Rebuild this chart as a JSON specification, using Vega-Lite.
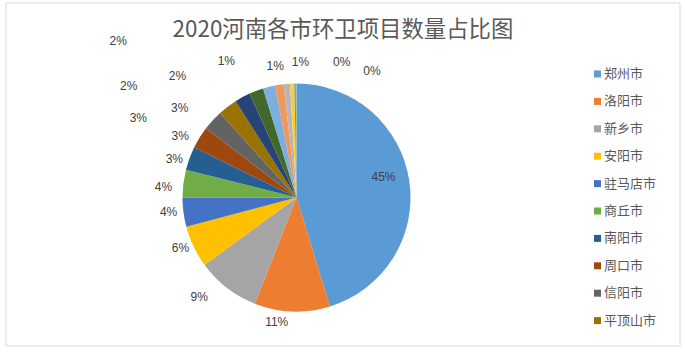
{
  "$schema": "https://vega.github.io/schema/vega-lite/v6.json",
  "width": 674,
  "height": 343,
  "autosize": {"type": "none"},
  "padding": {"left": 6, "top": 3, "right": 5, "bottom": 7},
  "background": "white",
  "config": {"view": {"stroke": null}, "font": "Noto Sans CJK SC"},
  "title": {"text": "2020河南各市环卫项目数量占比图", "fontSize": 22.4, "font": "Noto Sans CJK SC", "fontWeight": "normal", "color": "#595959", "anchor": "middle", "offset": -39},
  "layer": [
    {"data": {"values": [{"frame": 1}]},
     "mark": {"type": "rect", "x": 0, "x2": "width", "y": 0, "y2": "height", "fill": "transparent", "stroke": "#D9D9D9", "strokeWidth": 1},
     "encoding": {}},
    {"data": {"values": [
      {"rank": 1, "city": "郑州市", "share": 0.4526},
      {"rank": 2, "city": "洛阳市", "share": 0.1069},
      {"rank": 3, "city": "新乡市", "share": 0.0897},
      {"rank": 4, "city": "安阳市", "share": 0.0595},
      {"rank": 5, "city": "驻马店市", "share": 0.0413},
      {"rank": 6, "city": "商丘市", "share": 0.0393},
      {"rank": 7, "city": "南阳市", "share": 0.0333},
      {"rank": 8, "city": "周口市", "share": 0.0313},
      {"rank": 9, "city": "信阳市", "share": 0.0292},
      {"rank": 10, "city": "平顶山市", "share": 0.0272},
      {"rank": 11, "city": "开封市", "share": 0.0222},
      {"rank": 12, "city": "焦作市", "share": 0.0202},
      {"rank": 13, "city": "许昌市", "share": 0.0171},
      {"rank": 14, "city": "漯河市", "share": 0.0121},
      {"rank": 15, "city": "三门峡市", "share": 0.0091},
      {"rank": 16, "city": "鹤壁市", "share": 0.0060},
      {"rank": 17, "city": "濮阳市", "share": 0.0020},
      {"rank": 18, "city": "济源市", "share": 0.0010}
    ]},
    "encoding": {
      "theta": {"field": "share", "type": "quantitative", "stack": true},
      "order": {"field": "rank", "type": "quantitative"}
    },
    "layer": [
      {"mark": {"type": "arc", "x": 290.5, "y": 194.5, "outerRadius": 114},
       "encoding": {"color": {"field": "city", "type": "nominal",
         "scale": {"domain": ["郑州市","洛阳市","新乡市","安阳市","驻马店市","商丘市","南阳市","周口市","信阳市","平顶山市","开封市","焦作市","许昌市","漯河市","三门峡市","鹤壁市","濮阳市","济源市"],
                   "range": ["#5B9BD5","#ED7D31","#A5A5A5","#FFC000","#4472C4","#70AD47","#255E91","#9E480E","#636363","#997300","#264478","#43682B","#7CAFDD","#F1975A","#B7B7B7","#FFCD33","#698ED0","#8CC168"]},
         "legend": {"orient": "none", "legendX": 585, "legendY": 64.5, "title": null,
           "values": ["郑州市","洛阳市","新乡市","安阳市","驻马店市","商丘市","南阳市","周口市","信阳市","平顶山市"],
           "symbolType": "square", "symbolSize": 49, "symbolStrokeWidth": 0,
           "labelFont": "Noto Sans CJK SC", "labelFontSize": 13, "labelColor": "#595959",
           "rowPadding": 13.4, "labelOffset": 0, "padding": 0}}}},
      {"mark": {"type": "text", "x": 290.5, "y": 194.5, "radius": 90, "dx": -2, "dy": -7, "font": "Liberation Sans", "fontSize": 12, "fill": "#404040"},
       "encoding": {"text": {"field": "share", "type": "quantitative", "format": ".0%"}, "opacity": {"condition": {"test": "datum.rank == 1", "value": 1}, "value": 0}}},
      {"mark": {"type": "text", "x": 290.5, "y": 194.5, "radius": 126, "dx": -15, "dy": -1, "font": "Liberation Sans", "fontSize": 12, "fill": "#404040"},
       "encoding": {"text": {"field": "share", "type": "quantitative", "format": ".0%"}, "opacity": {"condition": {"test": "datum.rank == 2", "value": 1}, "value": 0}}},
      {"mark": {"type": "text", "x": 290.5, "y": 194.5, "radius": 140, "dx": -12, "dy": -11, "font": "Liberation Sans", "fontSize": 12, "fill": "#404040"},
       "encoding": {"text": {"field": "share", "type": "quantitative", "format": ".0%"}, "opacity": {"condition": {"test": "datum.rank == 3", "value": 1}, "value": 0}}},
      {"mark": {"type": "text", "x": 290.5, "y": 194.5, "radius": 126.5, "dx": -2, "dy": -4, "font": "Liberation Sans", "fontSize": 12, "fill": "#404040"},
       "encoding": {"text": {"field": "share", "type": "quantitative", "format": ".0%"}, "opacity": {"condition": {"test": "datum.rank == 4", "value": 1}, "value": 0}}},
      {"mark": {"type": "text", "x": 290.5, "y": 194.5, "radius": 129, "dx": 0, "dy": -2, "font": "Liberation Sans", "fontSize": 12, "fill": "#404040"},
       "encoding": {"text": {"field": "share", "type": "quantitative", "format": ".0%"}, "opacity": {"condition": {"test": "datum.rank == 5", "value": 1}, "value": 0}}},
      {"mark": {"type": "text", "x": 290.5, "y": 194.5, "radius": 133, "dx": -1, "dy": 6, "font": "Liberation Sans", "fontSize": 12, "fill": "#404040"},
       "encoding": {"text": {"field": "share", "type": "quantitative", "format": ".0%"}, "opacity": {"condition": {"test": "datum.rank == 6", "value": 1}, "value": 0}}},
      {"mark": {"type": "text", "x": 290.5, "y": 194.5, "radius": 128, "dx": -2, "dy": 6, "font": "Liberation Sans", "fontSize": 12, "fill": "#404040"},
       "encoding": {"text": {"field": "share", "type": "quantitative", "format": ".0%"}, "opacity": {"condition": {"test": "datum.rank == 7", "value": 1}, "value": 0}}},
      {"mark": {"type": "text", "x": 290.5, "y": 194.5, "radius": 132, "dx": -4, "dy": 8, "font": "Liberation Sans", "fontSize": 12, "fill": "#404040"},
       "encoding": {"text": {"field": "share", "type": "quantitative", "format": ".0%"}, "opacity": {"condition": {"test": "datum.rank == 8", "value": 1}, "value": 0}}},
      {"mark": {"type": "text", "x": 290.5, "y": 194.5, "radius": 177, "dx": -28, "dy": 40, "font": "Liberation Sans", "fontSize": 12, "fill": "#404040"},
       "encoding": {"text": {"field": "share", "type": "quantitative", "format": ".0%"}, "opacity": {"condition": {"test": "datum.rank == 9", "value": 1}, "value": 0}}},
      {"mark": {"type": "text", "x": 290.5, "y": 194.5, "radius": 147, "dx": -28, "dy": 28, "font": "Liberation Sans", "fontSize": 12, "fill": "#404040"},
       "encoding": {"text": {"field": "share", "type": "quantitative", "format": ".0%"}, "opacity": {"condition": {"test": "datum.rank == 10", "value": 1}, "value": 0}}},
      {"mark": {"type": "text", "x": 290.5, "y": 194.5, "radius": 200, "dx": -73, "dy": 65, "font": "Liberation Sans", "fontSize": 12, "fill": "#404040"},
       "encoding": {"text": {"field": "share", "type": "quantitative", "format": ".0%"}, "opacity": {"condition": {"test": "datum.rank == 11", "value": 1}, "value": 0}}},
      {"mark": {"type": "text", "x": 290.5, "y": 194.5, "radius": 170, "dx": -59, "dy": 38, "font": "Liberation Sans", "fontSize": 12, "fill": "#404040"},
       "encoding": {"text": {"field": "share", "type": "quantitative", "format": ".0%"}, "opacity": {"condition": {"test": "datum.rank == 12", "value": 1}, "value": 0}}},
      {"mark": {"type": "text", "x": 290.5, "y": 194.5, "radius": 238, "dx": -121, "dy": 74, "font": "Liberation Sans", "fontSize": 12, "fill": "#404040"},
       "encoding": {"text": {"field": "share", "type": "quantitative", "format": ".0%"}, "opacity": {"condition": {"test": "datum.rank == 13", "value": 1}, "value": 0}}},
      {"mark": {"type": "text", "x": 290.5, "y": 194.5, "radius": 153, "dx": -47, "dy": 15, "font": "Liberation Sans", "fontSize": 12, "fill": "#404040"},
       "encoding": {"text": {"field": "share", "type": "quantitative", "format": ".0%"}, "opacity": {"condition": {"test": "datum.rank == 14", "value": 1}, "value": 0}}},
      {"mark": {"type": "text", "x": 290.5, "y": 194.5, "radius": 133, "dx": -10, "dy": 1, "font": "Liberation Sans", "fontSize": 12, "fill": "#404040"},
       "encoding": {"text": {"field": "share", "type": "quantitative", "format": ".0%"}, "opacity": {"condition": {"test": "datum.rank == 15", "value": 1}, "value": 0}}},
      {"mark": {"type": "text", "x": 290.5, "y": 194.5, "radius": 136, "dx": 9, "dy": 0, "font": "Liberation Sans", "fontSize": 12, "fill": "#404040"},
       "encoding": {"text": {"field": "share", "type": "quantitative", "format": ".0%"}, "opacity": {"condition": {"test": "datum.rank == 16", "value": 1}, "value": 0}}},
      {"mark": {"type": "text", "x": 290.5, "y": 194.5, "radius": 143, "dx": 47, "dy": 7, "font": "Liberation Sans", "fontSize": 12, "fill": "#404040"},
       "encoding": {"text": {"field": "share", "type": "quantitative", "format": ".0%"}, "opacity": {"condition": {"test": "datum.rank == 17", "value": 1}, "value": 0}}},
      {"mark": {"type": "text", "x": 290.5, "y": 194.5, "radius": 147, "dx": 76, "dy": 20, "font": "Liberation Sans", "fontSize": 12, "fill": "#404040"},
       "encoding": {"text": {"field": "share", "type": "quantitative", "format": ".0%"}, "opacity": {"condition": {"test": "datum.rank == 18", "value": 1}, "value": 0}}}
    ]}
  ]
}
